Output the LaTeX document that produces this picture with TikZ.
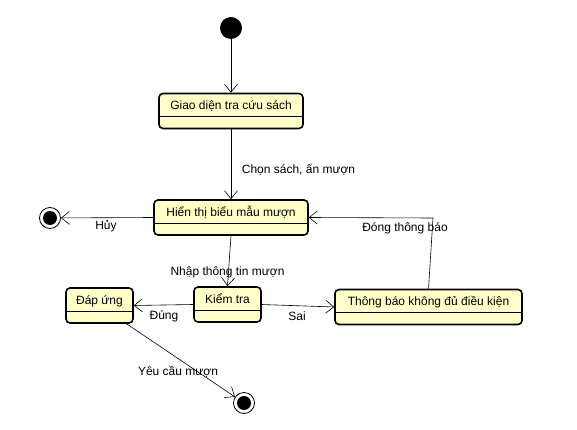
\documentclass[tikz,border=0pt]{standalone}
\usepackage{fontspec}
\setmainfont{Liberation Sans}
\usepackage{tikz}
\usetikzlibrary{arrows.meta,positioning}
\definecolor{stateyellow}{RGB}{255,255,200}

\tikzset{
  state/.style={draw=black, line width=1.6pt, rounded corners=4pt, fill=stateyellow,
    minimum height=35pt, inner xsep=0pt, inner ysep=0pt, text height=16pt, text depth=19pt,
    path picture={\draw[line width=0.8pt] ([yshift=12pt]path picture bounding box.south west)
      -- ([yshift=12pt]path picture bounding box.south east);}},
  startstate/.style={circle, fill=black, minimum size=22pt, inner sep=0pt},
  endstate/.style={circle, draw=black, line width=0.8pt, fill=white, minimum size=21pt, inner sep=0pt,
    path picture={\fill[black] (path picture bounding box.center) circle (7pt);}},
  trans/.style={draw, line width=0.6pt, ->},
  lbl/.style={inner sep=0pt}
}

\begin{document}
\begin{tikzpicture}[x=1pt, y=-1pt, font=\fontsize{12}{14}\selectfont,
    >={Straight Barb[length=8pt,width=13pt]}]
    \useasboundingbox (0,0) rectangle (577,430);

    \node[startstate] (start) at (231,28) {};
    \node[state, minimum width=144pt] (giao) at (231,111) {Giao diện tra cứu sách};
    \node[state, minimum width=154pt] (hien) at (231,217.5) {Hiển thị biểu mẫu mượn};
    \node[endstate] (fin1) at (50,218) {};
    \node[state, minimum width=67pt] (kiem) at (227.5,304.5) {Kiểm tra};
    \node[state, minimum width=67pt] (dap) at (99.5,305.5) {Đáp ứng};
    \node[state, minimum width=187pt] (thong) at (428.5,307) {Thông báo không đủ điều kiện};
    \node[endstate] (fin2) at (244,403) {};
    \coordinate (bend) at (433,218);

    \path[trans] (start) -- (giao);
    \path[trans] (giao) -- (hien);
    \path[trans] (hien.west) -- (fin1);
    \path[trans] (hien.south) -- (kiem.north);
    \path[trans] (kiem.west) -- (dap.east);
    \path[trans] (kiem.east) -- (thong.west);
    \path[trans] (thong.north) -- (bend) -- (hien.east);
    \path[trans] (dap) -- (fin2);

    \node[lbl] (chon) at (298.5,170) {Chọn sách, ấn mượn};
    \node[lbl] (huy) at (106,226) {Hủy};
    \node[lbl] (dong) at (405,228) {Đóng thông báo};
    \node[lbl] (nhap) at (227.5,272) {Nhập thông tin mượn};
    \node[lbl] (dung) at (164,316) {Đúng};
    \node[lbl] (sai) at (297,316) {Sai};
    \node[lbl] (yeu) at (178,372) {Yêu cầu mượn};
\end{tikzpicture}
\end{document}
